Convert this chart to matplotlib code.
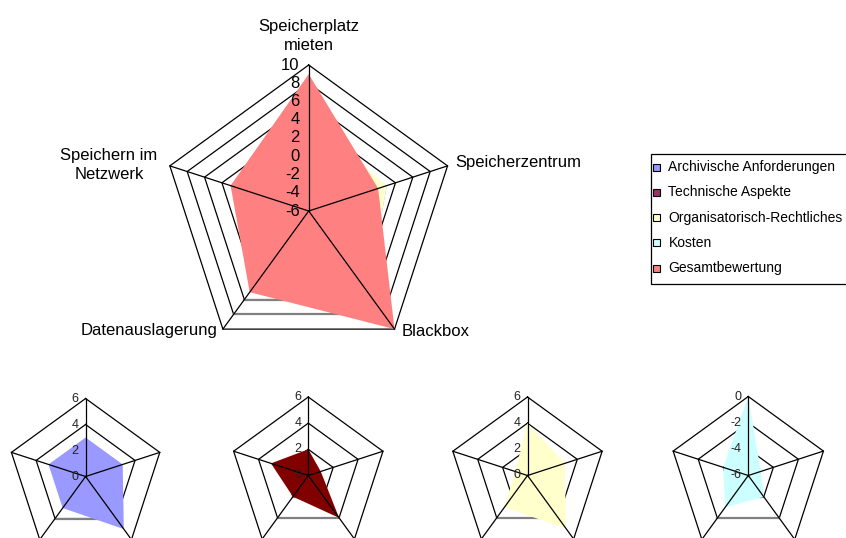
import numpy as np
import matplotlib
matplotlib.use("Agg")
import matplotlib.pyplot as plt
from matplotlib.patches import Polygon, Rectangle

plt.rcParams['font.family'] = ['Liberation Sans', 'DejaVu Sans']

# categories, clockwise from the top
categories = ["Speicherplatz\nmieten", "Speicherzentrum", "Blackbox",
              "Datenauslagerung", "Speichern im\nNetzwerk"]
series_names = ["Archivische Anforderungen", "Technische Aspekte",
                "Organisatorisch-Rechtliches", "Kosten", "Gesamtbewertung"]

archivisch = [3, 3, 5, 3, 3]
technisch = [2, 1, 4, 2, 3]
organisatorisch = [4, 3, 5, 3, 1]
kosten = [0, -5, -4, -3, -4]
gesamt = [9, 2, 10, 5, 3]

fill_colors = ["#9999FF", "#800000", "#FFFFCC", "#CCFFFF", "#FF8080"]
legend_colors = ["#9999FF", "#993366", "#FFFFCC", "#CCFFFF", "#FF8080"]

main_ticks = [-6, -4, -2, 0, 2, 4, 6, 8, 10]
small_ticks = [0, 2, 4, 6]
kosten_ticks = [-6, -4, -2, 0]

fig = plt.figure(figsize=(8.46, 5.38), dpi=100)
ax = fig.add_axes([0, 0, 1, 1])
ax.set_xlim(0, 846)
ax.set_ylim(538, 0)
ax.axis('off')

ang = np.deg2rad(90 - 72 * np.arange(5))


def radar(cx, cy, R, ticks, series, colors, fs, dx, tcolor):
    vmin, vmax = ticks[0], ticks[-1]

    def pts(vals):
        r = (np.asarray(vals, float) - vmin) / (vmax - vmin) * R
        return np.column_stack([cx + r * np.cos(ang), cy - r * np.sin(ang)])

    for t in ticks[1:]:
        p = pts([t] * 5)
        c = np.vstack([p, p[:1]])
        ax.plot(c[:, 0], c[:, 1], color='black', lw=0.9, zorder=1)
        if t != vmax:
            ax.plot(p[2:4, 0], p[2:4, 1], color='#808080', lw=1.6, zorder=1.5)
    for vals, col in zip(series, colors):
        ax.add_patch(Polygon(pts(vals), closed=True, facecolor=col,
                             edgecolor='none', zorder=2))
    for x, y in pts([vmax] * 5):
        ax.plot([cx, x], [cy, y], color='black', lw=0.9, zorder=3)
    for t in ticks:
        ax.text(cx + dx, cy - (t - vmin) / (vmax - vmin) * R, str(t),
                ha='right', va='center', fontsize=fs, color=tcolor, zorder=4)


# main chart
mcx, mcy, mR = 308.7, 211, 146
radar(mcx, mcy, mR, main_ticks,
      [archivisch, technisch, organisatorisch, kosten, gesamt],
      fill_colors, 12, -9, 'black')

ax.text(mcx, 36, categories[0], ha='center', va='center', fontsize=12,
        linespacing=1.4)
ax.text(455, 163, categories[1], ha='left', va='center', fontsize=12)
ax.text(402, 331, categories[2], ha='left', va='center', fontsize=12)
ax.text(217, 331, categories[3], ha='right', va='center', fontsize=12)
ax.text(109, 165, categories[4], ha='center', va='center', fontsize=12,
        linespacing=1.4)

# small charts
radar(85.6, 476.5, 78, small_ticks, [archivisch], [fill_colors[0]], 9, -7, '#222222')
radar(308.3, 475.5, 78.5, small_ticks, [technisch], [fill_colors[1]], 9, -7, '#222222')
radar(527.5, 475.5, 78.5, small_ticks, [organisatorisch], [fill_colors[2]], 9, -7, '#222222')
radar(748.3, 475.5, 79, kosten_ticks, [kosten], [fill_colors[3]], 9, -7, '#222222')

# legend
ax.add_patch(Rectangle((651, 154), 220, 130, facecolor='white',
                       edgecolor='black', lw=0.9, zorder=5))
for i, (name, col) in enumerate(zip(series_names, legend_colors)):
    y = 167 + i * 25.3
    ax.add_patch(Rectangle((653, y - 3.5), 7, 7, facecolor=col,
                           edgecolor='black', lw=0.8, zorder=6))
    ax.text(668.5, y, name, ha='left', va='center', fontsize=10, zorder=6)

fig.savefig("out.png", dpi=100)
